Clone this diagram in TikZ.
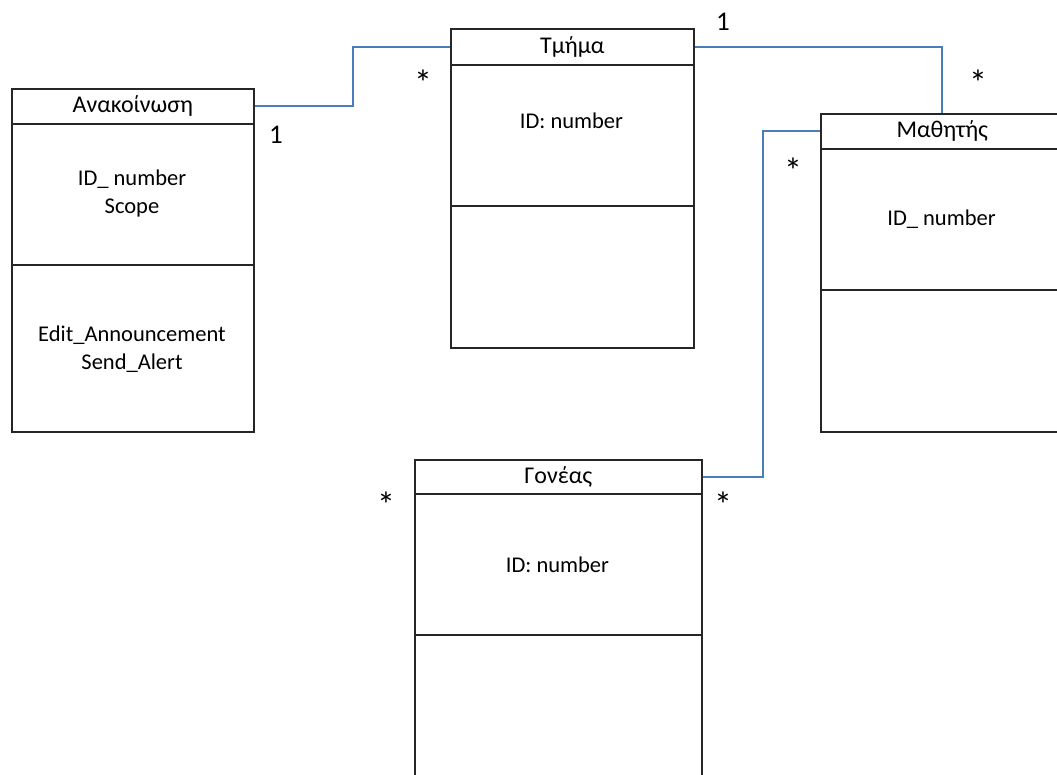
\documentclass[tikz,border=0pt]{standalone}
\usepackage{fontspec}
\setmainfont{Carlito}
\definecolor{linkblue}{HTML}{4A7EBB}
\definecolor{boxline}{HTML}{262626}
\begin{document}
\begin{tikzpicture}[x=1pt,y=-1pt,
  frame/.style={draw=boxline,line width=1.6pt,minimum width=#1,inner sep=0pt,anchor=north west},
  head/.style={draw=boxline,line width=1.6pt,minimum width=#1,minimum height=35pt,inner sep=0pt,anchor=north west,
     font=\fontsize{24}{28}\selectfont},
  txt/.style={align=center,inner sep=0pt,font=\fontsize{22.5}{28}\selectfont},
  mult/.style={inner sep=0pt,font=\fontsize{27}{30}\selectfont},
  star/.style={inner sep=0pt,anchor=north,font=\fontsize{36}{40}\selectfont},
  link/.style={draw=linkblue,line width=2pt}]
\clip (0,0) rectangle (1057,775);
\fill[white] (0,0) rectangle (1057,775);

% Ανακοίνωση
\node[frame=242pt,minimum height=343pt] (ann) at (11,88) {};
\node[head=242pt] (annH) at (11,88) {Ανακοίνωση};
\draw[draw=boxline,line width=1.6pt] (11,265) -- (253,265);
\node[txt] (annA) at (132,194) {ID\_ number\\Scope};
\node[txt] (annO) at (132,349) {Edit\_Announcement\\Send\_Alert};

% Τμήμα
\node[frame=243pt,minimum height=319pt] (tm) at (450,28) {};
\node[head=243pt,minimum height=36pt] (tmH) at (450,28) {Τμήμα};
\draw[draw=boxline,line width=1.6pt] (450,206) -- (693,206);
\node[txt] (tmA) at (571.5,121) {ID: number};

% Μαθητής
\node[frame=243pt,minimum height=318pt] (ma) at (820,113) {};
\node[head=243pt] (maH) at (820,113) {Μαθητής};
\draw[draw=boxline,line width=1.6pt] (820,290) -- (1063,290);
\node[txt] (maA) at (941.5,219) {ID\_ number};

% Γονέας
\node[frame=287pt,minimum height=340pt] (go) at (414,459) {};
\node[head=287pt,minimum height=34pt] (goH) at (414,459) {Γονέας};
\draw[draw=boxline,line width=1.6pt] (414,635) -- (701,635);
\node[txt] (goA) at (557.5,565) {ID: number};

% connectors
\draw[link] (annH.east) -- ++(98,0) |- (tmH.west);
\draw[link] (tmH.east) -| (maH.north);
\draw[link] (goH.east) -- ++(60,0) |- (maH.west);

% multiplicities
\node[mult] (m1) at (276,134.5) {1};
\node[star] (m2) at (423,70) {*};
\node[mult] (m3) at (723,21.5) {1};
\node[star] (m4) at (978,70) {*};
\node[star] (m5) at (793,158) {*};
\node[star] (m6) at (386,492) {*};
\node[star] (m7) at (723,492) {*};
\end{tikzpicture}
\end{document}
